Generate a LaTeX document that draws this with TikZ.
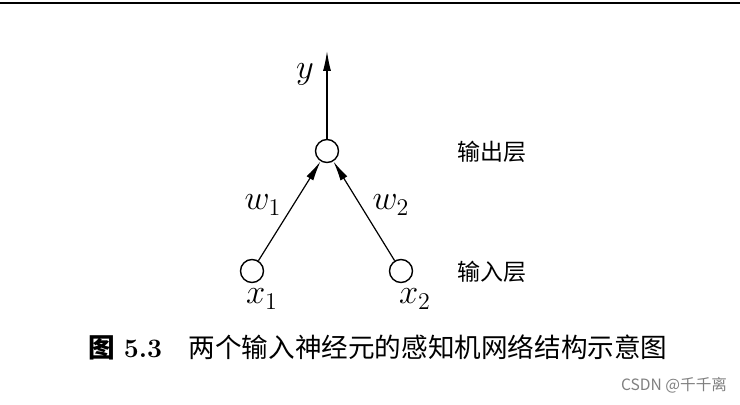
\documentclass[tikz,border=0pt]{standalone}
\usepackage{fontspec}
\newfontfamily\cjk{Noto Sans CJK SC}
\usetikzlibrary{arrows.meta}
\tikzset{
  neuron/.style={draw,circle,line width=0.7pt,minimum size=11.5pt,inner sep=0pt},
  conn/.style={line width=0.6pt,-{Latex[length=10pt,width=4pt]}},
  mlabel/.style={font=\fontsize{17}{20}\selectfont},
  layer/.style={font=\cjk\fontsize{11.5}{14}\selectfont}
}
\begin{document}
\begin{tikzpicture}[x=0.5pt,y=-0.5pt]
  \useasboundingbox (0,0) rectangle (740,405);
  \draw[line width=1.1pt] (0,3) -- (740,3);
  % neurons
  \node[neuron] (out) at (327,151) {};
  \node[neuron] (in1) at (252,271) {};
  \node[neuron] (in2) at (401,271) {};
  \coordinate (yend) at (327,51);
  \draw[conn] (out) -- (yend);
  \draw[conn] (in1) -- (out);
  \draw[conn] (in2) -- (out);
  % labels
  \node[mlabel] (ylab) at (305,74) {$y$};
  \node[mlabel] (w1) at (263,205) {$w_1$};
  \node[mlabel] (w2) at (391,205) {$w_2$};
  \node[mlabel] (x1) at (262,299) {$x_1$};
  \node[mlabel] (x2) at (415,299) {$x_2$};
  \node[layer] (outlayer) at (492,152) {输出层};
  \node[layer] (inlayer) at (492,272) {输入层};
  \node[font=\fontsize{13.3}{16}\selectfont] (caption) at (378,347)
    {{\cjk\bfseries 图}\ \textbf{5.3}\quad{\cjk 两个输入神经元的感知机网络结构示意图}};
  \node[font=\cjk\fontsize{7.8}{9}\selectfont,text=black!50] (mark) at (674,385) {CSDN @千千离};
\end{tikzpicture}
\end{document}
